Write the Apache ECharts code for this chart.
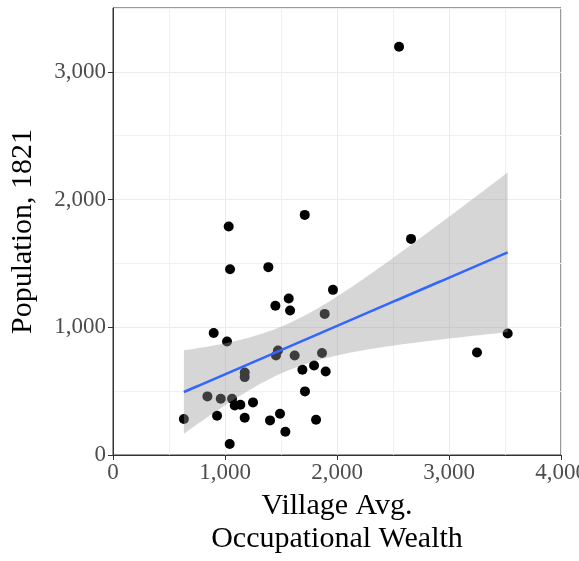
<!DOCTYPE html>
<html>
<head>
<meta charset="utf-8">
<script src="https://cdn.jsdelivr.net/npm/echarts@6/dist/echarts.min.js"></script>
<style>
  html, body { margin: 0; padding: 0; background: #fff; }
  #chart { width: 579px; height: 561px; }
</style>
</head>
<body>
<div id="chart"></div>
<script>
// village wealth vs population
const wealth = [633, 843, 962, 1063, 929, 1042, 1087, 1137, 1176, 1250, 1176, 1176, 899, 1018, 1033, 1045,
  1387, 1712, 1450, 1569, 1581, 1964, 1890, 1473, 1455, 1622, 1866, 1691, 1795, 1899, 1714, 1491, 1402,
  1539, 1813, 2554, 2661, 3250, 3524];
const population = [282, 459, 440, 440, 307, 86, 388, 394, 292, 412, 646, 610, 955, 889, 1789, 1455,
  1471, 1880, 1168, 1225, 1131, 1293, 1105, 818, 779, 779, 798, 667, 701, 654, 498, 323, 271,
  182, 276, 3197, 1692, 803, 952];
const xTicks = [0, 1000, 2000, 3000, 4000];
const yTicks = [0, 1000, 2000, 3000];

// linear fit + 95% confidence band, like geom_smooth(method = "lm")
const n = wealth.length;
const mx = wealth.reduce((a, b) => a + b, 0) / n;
const my = population.reduce((a, b) => a + b, 0) / n;
let sxx = 0, sxy = 0;
for (let i = 0; i < n; i++) {
  sxx += (wealth[i] - mx) ** 2;
  sxy += (wealth[i] - mx) * (population[i] - my);
}
const slope = sxy / sxx;
const intercept = my - slope * mx;
let sse = 0;
for (let i = 0; i < n; i++) sse += (population[i] - intercept - slope * wealth[i]) ** 2;
const s = Math.sqrt(sse / (n - 2));
const tCrit = 2.026;
const xMin = Math.min(...wealth), xMax = Math.max(...wealth);
const fitLine = [], band = [];
for (let k = 0; k <= 80; k++) {
  const x = xMin + (xMax - xMin) * k / 80;
  const y = intercept + slope * x;
  const se = s * Math.sqrt(1 / n + (x - mx) ** 2 / sxx);
  fitLine.push([x, y]);
  band.push([x, y - tCrit * se, y + tCrit * se]);
}

const fmt = v => v.toLocaleString('en-US');
const serif = '"Liberation Serif", "DejaVu Serif", serif';

const chart = echarts.init(document.getElementById('chart'));
chart.setOption({
  animation: false,
  grid: {
    left: 113, right: 18, top: 8, bottom: 106, outerBoundsMode: 'none',
    show: true, borderColor: '#333', borderWidth: 1, backgroundColor: 'transparent'
  },
  xAxis: {
    type: 'value', min: 0, max: 4000, interval: 1000,
    name: 'Village Avg.\nOccupational Wealth', nameLocation: 'middle', nameGap: 35,
    nameTextStyle: { fontFamily: serif, fontSize: 30, color: '#000', lineHeight: 33, verticalAlign: 'top' },
    axisLine: { lineStyle: { color: '#333', width: 1 } },
    axisTick: { show: true, length: 5, lineStyle: { color: '#333' } },
    axisLabel: { fontFamily: serif, fontSize: 23, color: '#4d4d4d', margin: 6, formatter: fmt, showMaxLabel: true, hideOverlap: false },
    splitLine: { lineStyle: { color: '#ebebeb', width: 1 } },
    minorTick: { show: false, splitNumber: 2 },
    minorSplitLine: { show: true, lineStyle: { color: '#f0f0f0', width: 1 } }
  },
  yAxis: {
    type: 'value', min: 0, max: 3500, interval: 1000,
    name: 'Population, 1821', nameLocation: 'middle', nameGap: 75, nameRotate: 90,
    nameTextStyle: { fontFamily: serif, fontSize: 30, color: '#000' },
    axisLine: { show: true, lineStyle: { color: '#333', width: 1 } },
    axisTick: { show: true, length: 5, lineStyle: { color: '#333' } },
    axisLabel: { fontFamily: serif, fontSize: 23, color: '#4d4d4d', margin: 7, formatter: fmt, showMaxLabel: false },
    splitLine: { lineStyle: { color: '#ebebeb', width: 1 } },
    minorTick: { show: false, splitNumber: 2 },
    minorSplitLine: { show: true, lineStyle: { color: '#f0f0f0', width: 1 } }
  },
  series: [
    {
      type: 'scatter',
      data: wealth.map((x, i) => [x, population[i]]),
      symbolSize: 10,
      itemStyle: { color: '#000', opacity: 1 },
      z: 2
    },
    {
      type: 'custom',
      data: band,
      z: 3,
      renderItem: function (params, api) {
        if (params.dataIndex !== 0) return;
        const upper = band.map(d => api.coord([d[0], d[2]]));
        const lower = band.map(d => api.coord([d[0], d[1]])).reverse();
        return {
          type: 'polygon',
          shape: { points: upper.concat(lower) },
          style: { fill: 'rgba(153,153,153,0.4)' }
        };
      },
      encode: { x: 0, y: [1, 2] }
    },
    {
      type: 'line',
      data: fitLine,
      showSymbol: false,
      lineStyle: { color: '#3366FF', width: 2.5 },
      z: 4
    }
  ]
});
</script>
</body>
</html>
